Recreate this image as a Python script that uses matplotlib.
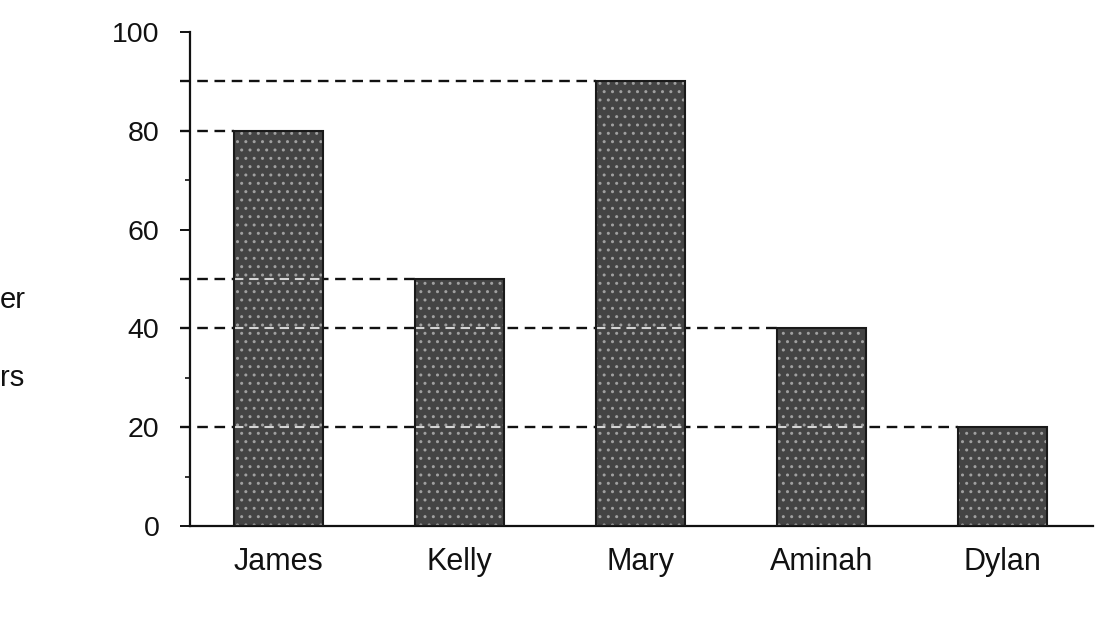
import matplotlib
matplotlib.use("Agg")
import matplotlib.pyplot as plt
from matplotlib.ticker import MultipleLocator

names = ["James", "Kelly", "Mary", "Aminah", "Dylan"]
values = [80, 50, 90, 40, 20]
yticks = [0, 20, 40, 60, 80, 100]
# only the ends of the y-axis title survive in the (cropped) reference
ylabel_fragments = ["er", "rs"]

plt.rcParams['font.family'] = ['Liberation Sans', 'DejaVu Sans']

W, H = 1107, 633
fig = plt.figure(figsize=(W / 100, H / 100), dpi=100)
ax = fig.add_axes([190 / W, 1 - 526 / H, (1093 - 190) / W, (526 - 32) / H])

width = 0.49
x = list(range(len(names)))
# textured fill
ax.bar(x, values, width=width, color='#444444', edgecolor='#a0a0a0',
       hatch='..', linewidth=0, zorder=2)
ax.bar(x, values, width=width, fill=False, edgecolor='#1a1a1a',
       linewidth=1.5, zorder=4)

xmin = -0.49
ax.set_xlim(xmin, 4.5)
ax.set_ylim(0, 100)

# dashed guide lines from the axis to each bar
for i, v in enumerate(values):
    ax.plot([xmin - 0.055, i - width / 2], [v, v], color='#111111',
            linestyle=(0, (4.5, 2.8)), linewidth=1.7, zorder=1.5, clip_on=False)
    for j in range(i):
        if values[j] > v:
            ax.plot([j - width / 2, j + width / 2], [v, v], color='#d4d4d4',
                    linestyle=(0, (4.5, 2.8)), linewidth=1.5, zorder=3)

ax.set_yticks(yticks)
ax.yaxis.set_minor_locator(MultipleLocator(10))
ax.set_xticks(x)
ax.set_xticklabels(names)

for s in ['top', 'right']:
    ax.spines[s].set_visible(False)
for s in ['left', 'bottom']:
    ax.spines[s].set_linewidth(1.6)
    ax.spines[s].set_color('#111111')

ax.tick_params(axis='y', which='major', length=7, width=1.4, pad=15,
               labelsize=20.5, colors='#111111')
ax.tick_params(axis='y', which='minor', length=3.5, width=1.2,
               colors='#111111')
ax.tick_params(axis='x', length=0, pad=15, labelsize=22, colors='#111111')

fig.text(0, 1 - 300 / H, ylabel_fragments[0], ha='left', va='center',
         fontsize=21, color='#111111')
fig.text(0, 1 - 378 / H, ylabel_fragments[1], ha='left', va='center',
         fontsize=21, color='#111111')

fig.savefig("out.png", dpi=100, facecolor='white')
